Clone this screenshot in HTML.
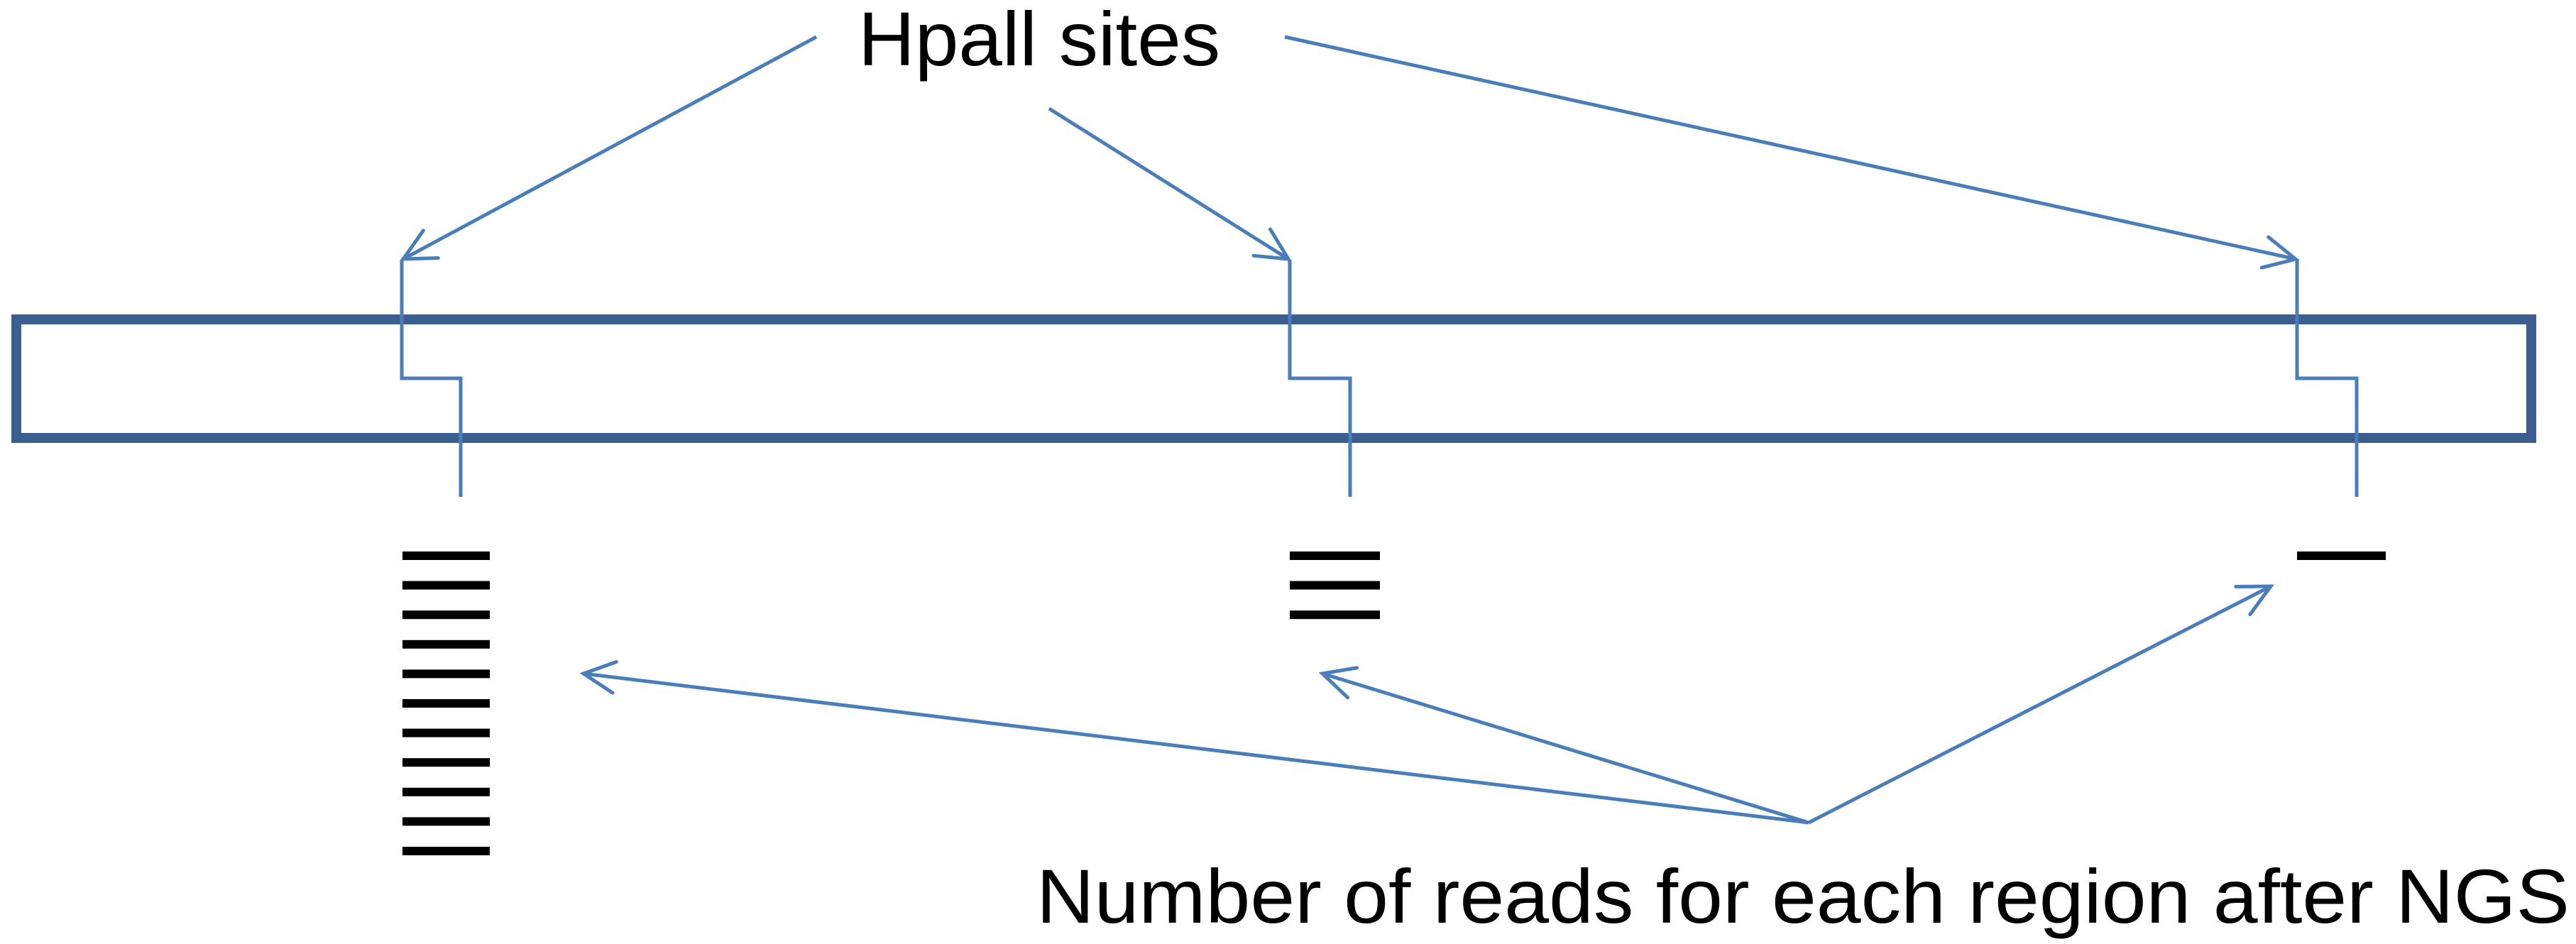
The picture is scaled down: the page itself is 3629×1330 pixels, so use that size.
<!DOCTYPE html>
<html><head><meta charset="utf-8"><style>
html,body{margin:0;padding:0;background:#fff;}
svg{display:block;}
</style></head><body>
<svg width="3629" height="1330" viewBox="0 0 3629 1330" xmlns="http://www.w3.org/2000/svg">
<defs>
<marker id="a" markerUnits="userSpaceOnUse" markerWidth="120" markerHeight="120" refX="60" refY="60" orient="auto" viewBox="0 0 120 120">
<path d="M16,38 L60,60 L16,82" fill="none" stroke="#4a7ebb" stroke-width="5" stroke-linecap="round" stroke-linejoin="miter"/>
</marker>
</defs>
<rect width="3629" height="1330" fill="#fff"/>
<!-- main bar -->
<rect x="23" y="450" width="3543" height="167" fill="none" stroke="#3a5f8f" stroke-width="14"/>
<!-- site lines -->
<g fill="none" stroke="#4a7ebb" stroke-width="5">
<polyline points="566,366 566,533 649,533 649,700"/>
<polyline points="1817,366 1817,533 1902,533 1902,700"/>
<polyline points="3236,366 3236,533 3320,533 3320,700"/>
</g>
<!-- top arrows -->
<g stroke="#4a7ebb" stroke-width="5" fill="none">
<line x1="1150" y1="52" x2="568" y2="365" marker-end="url(#a)"/>
<line x1="1478" y1="153" x2="1815" y2="365" marker-end="url(#a)"/>
<line x1="1810" y1="52" x2="3234" y2="365" marker-end="url(#a)"/>
<!-- bottom arrows -->
<line x1="2548" y1="1159" x2="822" y2="949" marker-end="url(#a)"/>
<line x1="2548" y1="1159" x2="1863" y2="949" marker-end="url(#a)"/>
<line x1="2548" y1="1159" x2="3199" y2="826" marker-end="url(#a)"/>
</g>
<!-- read bars -->
<g fill="#000">
<rect x="567" y="777" width="123" height="12"/>
<rect x="567" y="818.6" width="123" height="12"/>
<rect x="567" y="860.2" width="123" height="12"/>
<rect x="567" y="901.8" width="123" height="12"/>
<rect x="567" y="943.4" width="123" height="12"/>
<rect x="567" y="985" width="123" height="12"/>
<rect x="567" y="1026.6" width="123" height="12"/>
<rect x="567" y="1068.2" width="123" height="12"/>
<rect x="567" y="1109.8" width="123" height="12"/>
<rect x="567" y="1151.4" width="123" height="12"/>
<rect x="567" y="1193" width="123" height="12"/>
<rect x="1817" y="777" width="127" height="12"/>
<rect x="1817" y="818.6" width="127" height="12"/>
<rect x="1817" y="860.2" width="127" height="12"/>
<rect x="3236" y="777" width="125" height="12"/>
</g>
<!-- labels -->
<text x="1209" y="92" font-family="Liberation Sans, sans-serif" font-size="108" fill="#000" textLength="510" lengthAdjust="spacingAndGlyphs">Hpall sites</text>
<text x="1460" y="1300" font-family="Liberation Sans, sans-serif" font-size="108" fill="#000" textLength="2160" lengthAdjust="spacingAndGlyphs">Number of reads for each region after NGS</text>
</svg>
</body></html>
